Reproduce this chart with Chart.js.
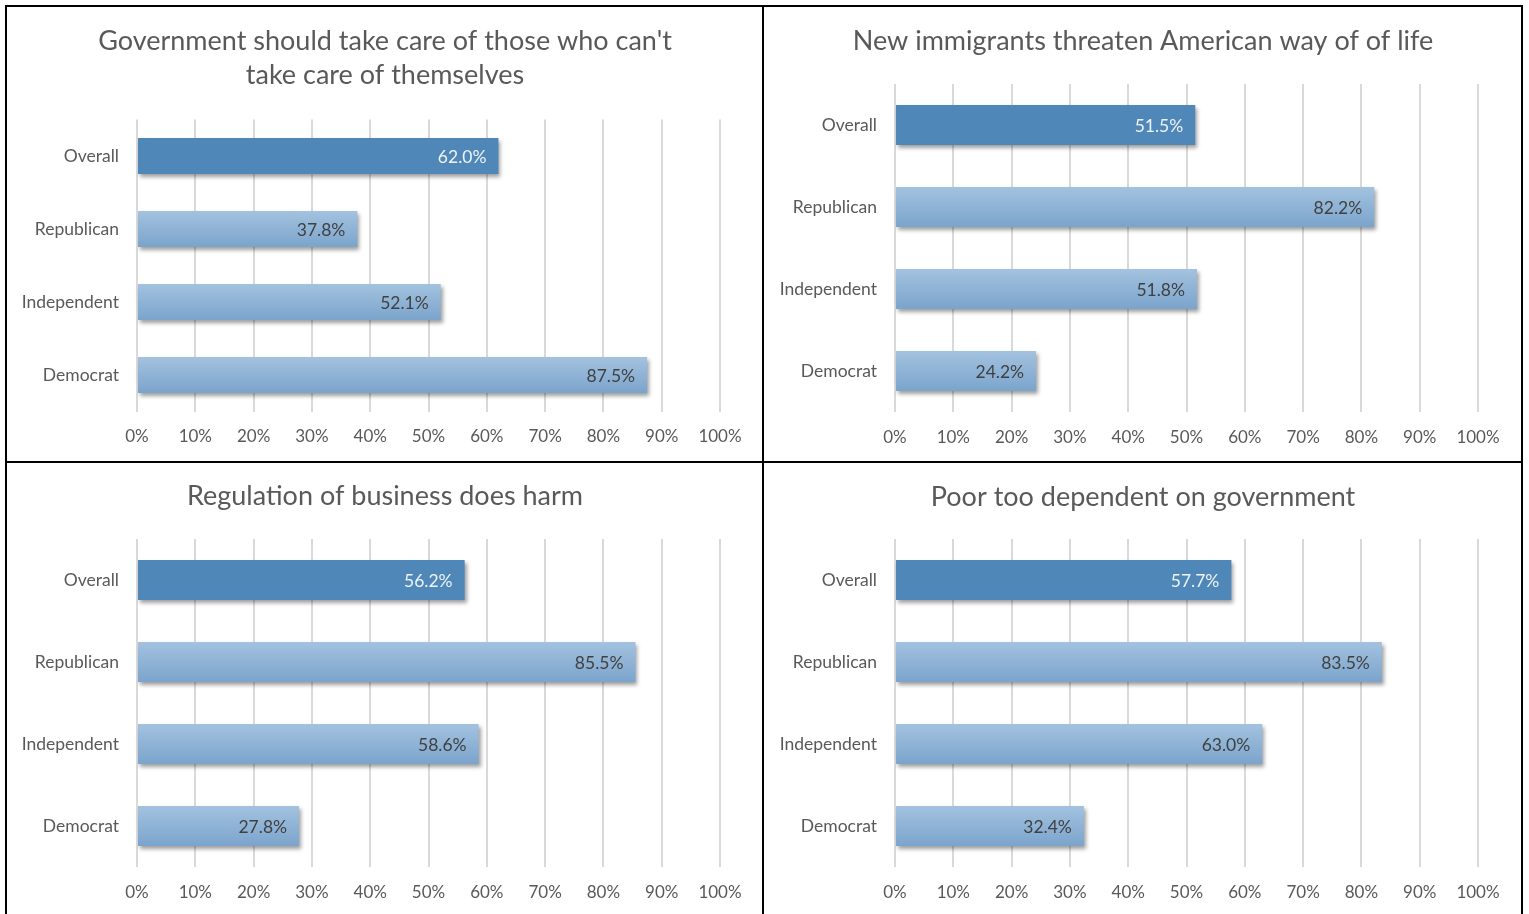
<!DOCTYPE html>
<html>
<head>
<meta charset="utf-8">
<title>Party views</title>
<script src="https://cdn.jsdelivr.net/npm/chart.js@4/dist/chart.umd.min.js"></script>
<style>
  html, body { margin: 0; padding: 0; background: #fff; overflow: hidden; }
  #page { position: relative; width: 1529px; height: 914px; }
  .panel { position: absolute; width: 756px; height: 455px; }
  .line { position: absolute; background: #000; }
</style>
</head>
<body>
<div id="page">
  <div class="panel" style="left:7px;top:7px"><canvas id="c1"></canvas></div>
  <div class="panel" style="left:765px;top:7px"><canvas id="c2"></canvas></div>
  <div class="panel" style="left:7px;top:463px"><canvas id="c3"></canvas></div>
  <div class="panel" style="left:765px;top:463px"><canvas id="c4"></canvas></div>
  <div class="line" style="left:5px;top:5px;width:1518px;height:2px"></div>
  <div class="line" style="left:5px;top:461px;width:1518px;height:2px"></div>
  <div class="line" style="left:5px;top:5px;width:2px;height:920px"></div>
  <div class="line" style="left:762px;top:5px;width:2px;height:920px"></div>
  <div class="line" style="left:1521px;top:5px;width:2px;height:920px"></div>
</div>
<script>
const groups = ['Overall', 'Republican', 'Independent', 'Democrat'];

const govCare = [62.0, 37.8, 52.1, 87.5];
const immigrants = [51.5, 82.2, 51.8, 24.2];
const regulation = [56.2, 85.5, 58.6, 27.8];
const poorDependent = [57.7, 83.5, 63.0, 32.4];

const FONT = 'Lato, "Open Sans", sans-serif';
const GREY = '#595959';

// light bars get a top-to-bottom gradient, "Overall" stays solid
function barFill(c) {
  if (c.dataIndex === 0) return '#4F87B8';
  const y = c.chart.scales.y;
  if (!y) return '#8FB3D6';
  const mid = y.getPixelForValue(c.dataIndex);
  const half = (y.height / groups.length) * 0.49 / 2;
  const g = c.chart.ctx.createLinearGradient(0, mid - half, 0, mid + half);
  g.addColorStop(0, '#A3C2DF');
  g.addColorStop(1, '#7BA4CC');
  return g;
}

const barLook = {
  id: 'barLook',
  beforeDatasetDraw(chart) {
    const ctx = chart.ctx;
    ctx.save();
    ctx.shadowColor = 'rgba(0,0,0,0.38)';
    ctx.shadowBlur = 4;
    ctx.shadowOffsetX = 2;
    ctx.shadowOffsetY = 3;
  },
  afterDatasetDraw(chart) {
    chart.ctx.restore();
  },
  afterDatasetsDraw(chart) {
    const ctx = chart.ctx;
    const meta = chart.getDatasetMeta(0);
    const vals = chart.data.datasets[0].data;
    ctx.save();
    ctx.font = '17.5px ' + FONT;
    ctx.textAlign = 'right';
    ctx.textBaseline = 'middle';
    meta.data.forEach((bar, i) => {
      ctx.fillStyle = i === 0 ? '#EEF3F8' : '#404040';
      ctx.fillText(vals[i].toFixed(1) + '%', bar.x - 12, bar.y + 1);
    });
    ctx.restore();
  }
};

function makeChart(id, title, values, pad, axisH) {
  return new Chart(document.getElementById(id), {
    type: 'bar',
    data: {
      labels: groups,
      datasets: [{
        data: values,
        backgroundColor: barFill,
        borderWidth: 0,
        barPercentage: 0.49,
        categoryPercentage: 1
      }]
    },
    options: {
      indexAxis: 'y',
      responsive: true,
      maintainAspectRatio: false,
      animation: false,
      layout: { padding: 0 },
      plugins: {
        legend: { display: false },
        tooltip: { enabled: false },
        title: {
          display: true,
          text: title,
          color: GREY,
          font: { family: FONT, size: 27, weight: 'normal', lineHeight: 34 / 27 },
          padding: pad
        }
      },
      scales: {
        x: {
          min: 0,
          max: 100,
          border: { display: false },
          grid: { color: '#D9D9D9', lineWidth: 2, drawTicks: false },
          ticks: {
            stepSize: 10,
            padding: 15,
            color: GREY,
            font: { family: FONT, size: 17 },
            callback: v => v + '%'
          },
          afterFit: s => { s.height = axisH; }
        },
        y: {
          border: { display: false },
          grid: { display: false, drawTicks: false },
          ticks: { padding: 18, color: GREY, font: { family: FONT, size: 17.5 } },
          afterFit: s => { s.width = 130; }
        },
        // empty strip on the right so the plot ends short of the frame
        gap: {
          type: 'category',
          position: 'right',
          labels: groups,
          border: { display: false },
          grid: { display: false, drawTicks: false },
          ticks: { display: false },
          afterFit: s => { s.width = 43; }
        }
      }
    },
    plugins: [barLook]
  });
}

makeChart('c1', ["Government should take care of those who can't", 'take care of themselves'],
  govCare, { top: 17, bottom: 27.5 }, 50.5);
makeChart('c2', 'New immigrants threaten American way of of life',
  immigrants, { top: 17, bottom: 26 }, 50);
makeChart('c3', 'Regulation of business does harm',
  regulation, { top: 16, bottom: 26 }, 51);
makeChart('c4', 'Poor too dependent on government',
  poorDependent, { top: 17, bottom: 25 }, 51);
</script>
</body>
</html>
